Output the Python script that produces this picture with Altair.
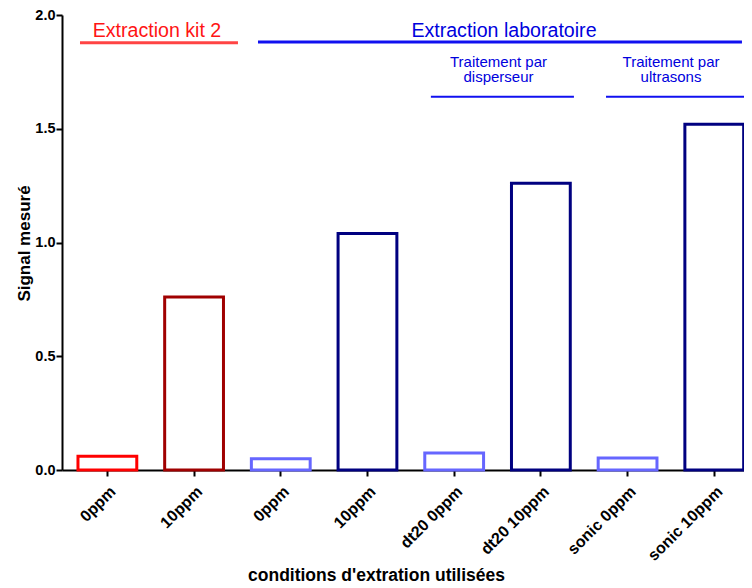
import json
import altair as alt
import pandas as pd

# ---- data ----
labels = ["0ppm", "10ppm", "0ppm", "10ppm", "dt20 0ppm", "dt20 10ppm", "sonic 0ppm", "sonic 10ppm"]
values = [0.06, 0.76, 0.05, 1.04, 0.075, 1.26, 0.053, 1.52]
colors = ["#FF0000", "#A00000", "#6666FF", "#000080", "#6666FF", "#000080", "#6666FF", "#000080"]

# annotation groups (x in bar-index units, y in data units)
ann_text = ["Extraction kit 2", "Extraction laboratoire", "Traitement par\ndisperseur", "Traitement par\nultrasons"]
ann_text_x = [0.572, 4.574, 4.511, 6.501]
ann_text_y = [1.903, 1.903, 1.772, 1.772]
ann_text_size = [19.6, 19.6, 15, 15]
ann_text_color = ["#FF1414", "#0000DD", "#0000DD", "#0000DD"]
ann_line_x1 = [-0.316, 1.737, 3.731, 5.751]
ann_line_x2 = [1.506, 7.319, 5.381, 7.411]
ann_line_y = [1.878, 1.881, 1.641, 1.641]
ann_line_w = [3, 3, 2, 2]
ann_line_color = ["#FF4444", "#1010F0", "#1010F0", "#1010F0"]

FONT = "Liberation Sans, Arial, sans-serif"

df = pd.DataFrame({"idx": list(range(len(labels))), "label": labels, "value": values, "color": colors})
df_text = pd.DataFrame({"t": ann_text, "x": ann_text_x, "y": ann_text_y, "s": ann_text_size, "c": ann_text_color})
df_line = pd.DataFrame({"x1": ann_line_x1, "x2": ann_line_x2, "y": ann_line_y, "w": ann_line_w, "c": ann_line_color})

label_expr = json.dumps(labels) + "[datum.value]"

bars = alt.Chart(df).mark_bar(fill="white", strokeWidth=3).encode(
    x=alt.X(
        "idx:O",
        sort=None,
        scale=alt.Scale(paddingInner=0.3218, paddingOuter=0.094, align=0.98),
        axis=alt.Axis(
            labelExpr=label_expr,
            labelAngle=-45,
            labelAlign="right",
            labelBaseline="top",
            labelPadding=7,
            labelFontSize=16,
            title="conditions d'extration utilisées",
            titleFontSize=17.5,
            titleX=314,
            titleY=110,
            titleAlign="center",
            titleBaseline="alphabetic",
        ),
    ),
    y=alt.Y(
        "value:Q",
        scale=alt.Scale(domain=[0, 2], nice=False),
        axis=alt.Axis(
            values=[0, 0.5, 1, 1.5, 2],
            format=".1f",
            labelFontSize=14.5,
            labelPadding=1,
            title="Signal mesuré",
            titleFontSize=17,
            titleAngle=270,
            titleX=-33,
            titleY=228,
            titleAlign="center",
            titleBaseline="alphabetic",
        ),
    ),
    stroke=alt.Stroke("color:N", scale=None),
)

xq = alt.Scale(domain=[-0.5236, 7.3426], nice=False, zero=False)
yq = alt.Scale(domain=[0, 2], nice=False)

lines = alt.Chart(df_line).mark_rule().encode(
    x=alt.X("x1:Q", scale=xq, axis=None),
    x2="x2:Q",
    y=alt.Y("y:Q", scale=yq, axis=None),
    color=alt.Color("c:N", scale=None),
    strokeWidth=alt.StrokeWidth("w:Q", scale=None),
)

texts = alt.Chart(df_text).mark_text(
    font=FONT, align="center", baseline="alphabetic", lineBreak="\n", lineHeight=15.5
).encode(
    x=alt.X("x:Q", scale=xq, axis=None),
    y=alt.Y("y:Q", scale=yq, axis=None),
    text="t:N",
    color=alt.Color("c:N", scale=None),
    size=alt.Size("s:Q", scale=None),
)

chart = alt.layer(bars, lines, texts).resolve_scale(
    x="independent", y="independent"
).properties(
    width=682,
    height=455,
    autosize=alt.AutoSizeParams(type="none"),
    padding={"left": 54, "top": 7, "right": 0, "bottom": 118},
).configure_view(stroke=None).configure_axis(
    grid=False,
    domainColor="black",
    domainWidth=2,
    tickColor="black",
    tickWidth=2,
    tickSize=6,
    labelFont=FONT,
    labelFontWeight="bold",
    labelColor="black",
    titleFont=FONT,
    titleFontWeight="bold",
    titleColor="black",
    zindex=1,
)

chart.save("out.html", embed_options={"renderer": "svg", "actions": False})
